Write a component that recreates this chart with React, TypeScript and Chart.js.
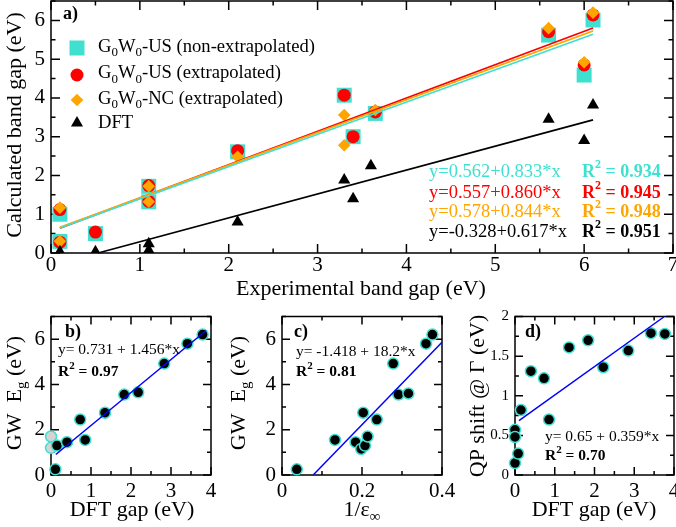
import React, { useEffect, useRef } from "react";
import { Chart, registerables } from "chart.js";

Chart.register(...registerables);

const W = 676;
const H = 527;
const SERIF = "'Liberation Serif', 'Times New Roman', Times, serif";
const TURQ = "#40E0D0";
const RED = "#FF0000";
const ORANGE = "#FFA500";
const BLUE = "#0000FF";

// ---------- Panel a ----------
const expUS = [0.1, 0.1, 0.5, 1.1, 1.1, 2.1, 3.3, 3.4, 3.65, 5.6, 6.0, 6.1];
const usNonExtrap = [1.0, 0.3, 0.5, 1.72, 1.32, 2.61, 4.07, 3.0, 3.6, 5.62, 4.59, 6.01];
const usExtrap = [1.12, 0.28, 0.54, 1.74, 1.33, 2.64, 4.07, 3.0, 3.64, 5.71, 4.85, 6.14];
const expNC = [0.1, 0.1, 1.1, 1.1, 2.1, 3.3, 3.3, 3.65, 5.6, 6.0, 6.1];
const ncExtrap = [1.17, 0.3, 1.72, 1.32, 2.48, 3.56, 2.78, 3.69, 5.8, 4.92, 6.2];
const expDFT = [0.1, 0.5, 1.1, 1.1, 2.1, 3.3, 3.4, 3.6, 5.6, 6.0, 6.1];
const dftA = [0.03, 0.03, 0.24, 0.07, 0.8, 1.88, 1.4, 2.25, 3.45, 2.9, 3.82];

const fitX = [0.1, 6.1];
const fitNonExtrap = [0.645, 5.643];
const fitExtrapUS = [0.643, 5.803];
const fitExtrapNC = [0.662, 5.726];
const fitDftX = [0.53, 6.1];
const fitDft = [0.0, 3.436];

const aXTicks = [0, 1, 2, 3, 4, 5, 6, 7];
const aYTicks = [0, 1, 2, 3, 4, 5, 6];

// ---------- Panel b ----------
const bDFT = [0.11, 0.15, 0.4, 0.73, 0.855, 1.35, 1.83, 2.18, 2.83, 3.41, 3.79];
const bGW = [0.25, 1.3, 1.45, 2.45, 1.55, 2.75, 3.55, 3.65, 4.92, 5.8, 6.2];
const bDFTgray = [0, 0];
const bGWgray = [1.7, 1.2];
const bFitX = [0.12, 3.88];
const bFitY = [0.906, 6.38];
const bXTicks = [0, 1, 2, 3, 4];
const bYTicks = [0, 2, 4, 6];

// ---------- Panel c ----------
const cInvEps = [0.037, 0.1325, 0.184, 0.198, 0.2075, 0.214, 0.203, 0.237, 0.278, 0.291, 0.316, 0.36, 0.376];
const cGW = [0.25, 1.55, 1.45, 1.15, 1.3, 1.7, 2.75, 2.45, 4.92, 3.55, 3.6, 5.8, 6.2];
const cFitX = [0.078, 0.4];
const cFitY = [0.0, 5.86];
const cXTicks = [0, 0.2, 0.4];
const cYTicks = [0, 2, 4, 6];

// ---------- Panel d ----------
const dDFT = [0, 0, 0, 0.08, 0.15, 0.4, 0.73, 0.855, 1.36, 1.84, 2.22, 2.85, 3.42, 3.77];
const dShift = [0.57, 0.48, 0.15, 0.27, 0.82, 1.31, 1.22, 0.7, 1.61, 1.7, 1.36, 1.57, 1.79, 1.78];
const dFitX = [0.1, 3.76];
const dFitY = [0.686, 2.0];
const dXTicks = [0, 1, 2, 3, 4];
const dYTicks = [0, 0.5, 1, 1.5, 2];

type Part = { t: string; sub?: boolean; sup?: boolean };
type Txt = {
  x: number;
  y: number;
  parts: Part[];
  size: number;
  color?: string;
  bold?: boolean;
  align?: "left" | "center";
  rot?: boolean;
};

const pts = (xs: number[], ys: number[]) => xs.map((x, i) => ({ x, y: ys[i] }));

function drawParts(ctx: CanvasRenderingContext2D, tx: Txt) {
  ctx.save();
  ctx.fillStyle = tx.color || "#000";
  ctx.textBaseline = "middle";
  ctx.textAlign = "left";
  const weight = tx.bold ? "bold " : "";
  const fontFor = (p: Part) =>
    `${weight}${p.sub || p.sup ? Math.round(tx.size * 0.68) : tx.size}px ${SERIF}`;
  let total = 0;
  const widths = tx.parts.map((p) => {
    ctx.font = fontFor(p);
    const w = ctx.measureText(p.t).width;
    total += w;
    return w;
  });
  ctx.translate(tx.x, tx.y);
  if (tx.rot) ctx.rotate(-Math.PI / 2);
  let x = tx.align === "center" ? -total / 2 : 0;
  tx.parts.forEach((p, i) => {
    ctx.font = fontFor(p);
    const dy = p.sub ? tx.size * 0.32 : p.sup ? -tx.size * 0.4 : 0;
    ctx.fillText(p.t, x, dy);
    x += widths[i];
  });
  ctx.restore();
}

function drawMarker(ctx: CanvasRenderingContext2D, kind: string, x: number, y: number) {
  ctx.save();
  ctx.beginPath();
  if (kind === "square") {
    ctx.fillStyle = TURQ;
    ctx.rect(x - 7.5, y - 7.5, 15, 15);
  } else if (kind === "circle") {
    ctx.fillStyle = RED;
    ctx.arc(x, y, 6.5, 0, Math.PI * 2);
  } else if (kind === "diamond") {
    ctx.fillStyle = ORANGE;
    ctx.moveTo(x, y - 6.3);
    ctx.lineTo(x + 6.3, y);
    ctx.lineTo(x, y + 6.3);
    ctx.lineTo(x - 6.3, y);
    ctx.closePath();
  } else {
    ctx.fillStyle = "#000";
    ctx.moveTo(x, y - 7);
    ctx.lineTo(x + 6.06, y + 3.5);
    ctx.lineTo(x - 6.06, y + 3.5);
    ctx.closePath();
  }
  ctx.fill();
  ctx.restore();
}

const decoPlugin = {
  id: "deco",
  beforeDatasetsDraw(chart: any, _args: any, o: any) {
    const f = o && o.frame;
    if (!f) return;
    const { ctx, chartArea: a, scales } = chart;
    const xs = scales.x;
    const ys = scales.y;
    ctx.save();
    ctx.strokeStyle = "#000";
    ctx.lineWidth = f.lw;
    ctx.beginPath();
    const nx = Math.round((xs.max - xs.min) / f.xMinor);
    for (let i = 0; i <= nx; i++) {
      const v = xs.min + i * f.xMinor;
      const r = v / f.xMajor;
      const len = Math.abs(r - Math.round(r)) < 1e-6 ? f.major : f.minor;
      const px = xs.getPixelForValue(v);
      ctx.moveTo(px, a.bottom);
      ctx.lineTo(px, a.bottom - len);
      ctx.moveTo(px, a.top);
      ctx.lineTo(px, a.top + len);
    }
    const ny = Math.round((ys.max - ys.min) / f.yMinor);
    for (let i = 0; i <= ny; i++) {
      const v = ys.min + i * f.yMinor;
      const r = v / f.yMajor;
      const len = Math.abs(r - Math.round(r)) < 1e-6 ? f.major : f.minor;
      const py = ys.getPixelForValue(v);
      ctx.moveTo(a.left, py);
      ctx.lineTo(a.left + len, py);
      ctx.moveTo(a.right, py);
      ctx.lineTo(a.right - len, py);
    }
    ctx.stroke();
    ctx.strokeRect(a.left, a.top, a.right - a.left, a.bottom - a.top);
    ctx.restore();
  },
  afterDraw(chart: any, _args: any, o: any) {
    if (!o) return;
    const ctx = chart.ctx;
    (o.legend || []).forEach((l: any) => drawMarker(ctx, l.kind, l.x, l.y));
    (o.texts || []).forEach((t: Txt) => drawParts(ctx, t));
  },
};
Chart.register(decoPlugin as any);

type Area = { l: number; t: number; r: number; b: number };

function makeScale(
  min: number,
  max: number,
  ticks: number[],
  size: number,
  padding: number,
  horizontal: boolean,
  fixed: number
) {
  return {
    type: "linear",
    min,
    max,
    afterBuildTicks: (s: any) => {
      s.ticks = ticks.map((v) => ({ value: v }));
    },
    ticks: {
      font: { family: SERIF, size },
      color: "#000",
      padding,
      maxRotation: 0,
      minRotation: 0,
      autoSkip: false,
      callback: (v: any) => String(Math.round(Number(v) * 1000) / 1000),
    },
    grid: { display: false, drawTicks: false },
    border: { display: false },
    afterFit: (s: any) => {
      if (horizontal) s.height = fixed;
      else s.width = fixed;
      s.paddingLeft = 0;
      s.paddingRight = 0;
      s.paddingTop = 0;
      s.paddingBottom = 0;
    },
  };
}

function baseOptions(
  area: Area,
  xr: [number, number],
  yr: [number, number],
  xTicks: number[],
  yTicks: number[],
  xFont: number,
  yFont: number,
  xPad: number,
  yPad: number,
  deco: any
) {
  return {
    responsive: false,
    maintainAspectRatio: false,
    animation: false,
    events: [],
    layout: { autoPadding: false, padding: { left: 0, top: area.t, right: W - area.r, bottom: 0 } },
    plugins: {
      legend: { display: false },
      tooltip: { enabled: false },
      deco,
    },
    scales: {
      x: makeScale(xr[0], xr[1], xTicks, xFont, xPad, true, H - area.b),
      y: makeScale(yr[0], yr[1], yTicks, yFont, yPad, false, area.l),
    },
  };
}

const lineDs = (xs: number[], ys: number[], color: string, width: number, order: number) => ({
  data: pts(xs, ys),
  showLine: true,
  borderColor: color,
  borderWidth: width,
  pointRadius: 0,
  fill: false,
  order,
  clip: false,
});

const subPointDs = (xs: number[], ys: number[], bg: string, order: number) => ({
  data: pts(xs, ys),
  pointStyle: "circle",
  pointRadius: 5.5,
  backgroundColor: bg,
  borderColor: TURQ,
  borderWidth: 1.5,
  order,
  clip: false,
});

function makeMain(canvas: HTMLCanvasElement) {
  const area = { l: 51, t: 1, r: 673, b: 253 };
  const LG = 18.6;
  const AN = 18.5;
  const texts: Txt[] = [
    { x: 63, y: 14, parts: [{ t: "a)" }], size: 18, bold: true },
    { x: 98, y: 47, parts: [{ t: "G" }, { t: "0", sub: true }, { t: "W" }, { t: "0", sub: true }, { t: "-US (non-extrapolated)" }], size: LG },
    { x: 98, y: 73.5, parts: [{ t: "G" }, { t: "0", sub: true }, { t: "W" }, { t: "0", sub: true }, { t: "-US (extrapolated)" }], size: LG },
    { x: 98, y: 99, parts: [{ t: "G" }, { t: "0", sub: true }, { t: "W" }, { t: "0", sub: true }, { t: "-NC (extrapolated)" }], size: LG },
    { x: 98, y: 123.5, parts: [{ t: "DFT" }], size: LG },
    { x: 429, y: 172, parts: [{ t: "y=0.562+0.833*x" }], size: AN, color: TURQ },
    { x: 429, y: 193, parts: [{ t: "y=0.557+0.860*x" }], size: AN, color: RED },
    { x: 429, y: 212.5, parts: [{ t: "y=0.578+0.844*x" }], size: AN, color: ORANGE },
    { x: 429, y: 232, parts: [{ t: "y=-0.328+0.617*x" }], size: AN, color: "#000" },
    { x: 582, y: 172, parts: [{ t: "R" }, { t: "2", sup: true }, { t: " = 0.934" }], size: 18, color: TURQ, bold: true },
    { x: 582, y: 193, parts: [{ t: "R" }, { t: "2", sup: true }, { t: " = 0.945" }], size: 18, color: RED, bold: true },
    { x: 582, y: 212.5, parts: [{ t: "R" }, { t: "2", sup: true }, { t: " = 0.948" }], size: 18, color: ORANGE, bold: true },
    { x: 582, y: 232, parts: [{ t: "R" }, { t: "2", sup: true }, { t: " = 0.951" }], size: 18, color: "#000", bold: true },
    { x: 15, y: 125, parts: [{ t: "Calculated band gap (eV)" }], size: 22, align: "center", rot: true },
    { x: 361, y: 289, parts: [{ t: "Experimental band gap (eV)" }], size: 22, align: "center" },
  ];
  const legend = [
    { kind: "square", x: 77, y: 48 },
    { kind: "circle", x: 77, y: 75 },
    { kind: "diamond", x: 77, y: 100 },
    { kind: "triangle", x: 77, y: 123 },
  ];
  return new Chart(canvas, {
    type: "scatter",
    data: {
      datasets: [
        { data: pts(expUS, usNonExtrap), pointStyle: "rect", pointRadius: 10.6, backgroundColor: TURQ, borderWidth: 0, order: 5 },
        { data: pts(expUS, usExtrap), pointStyle: "circle", pointRadius: 6.5, backgroundColor: RED, borderWidth: 0, order: 4 },
        { data: pts(expNC, ncExtrap), pointStyle: "rectRot", pointRadius: 6.3, backgroundColor: ORANGE, borderWidth: 0, order: 3 },
        { data: pts(expDFT, dftA), pointStyle: "triangle", pointRadius: 7, backgroundColor: "#000", borderWidth: 0, order: 2 },
        lineDs(fitX, fitNonExtrap, TURQ, 1.8, 1),
        lineDs(fitX, fitExtrapNC, ORANGE, 1.8, 1),
        lineDs(fitX, fitExtrapUS, RED, 1.8, 1),
        lineDs(fitDftX, fitDft, "#000", 1.8, 1),
      ] as any,
    },
    options: baseOptions(area, [0, 7], [0, 6.5], aXTicks, aYTicks, 21, 21, 0, 6, {
      frame: { lw: 1.5, xMajor: 1, xMinor: 0.5, yMajor: 1, yMinor: 0.5, major: 9, minor: 4.5 },
      texts,
      legend,
    }) as any,
  });
}

function makeB(canvas: HTMLCanvasElement) {
  const area = { l: 51, t: 316.5, r: 211, b: 475 };
  const texts: Txt[] = [
    { x: 65, y: 332, parts: [{ t: "b)" }], size: 18, bold: true },
    { x: 58, y: 350, parts: [{ t: "y= 0.731 + 1.456*x" }], size: 15.5 },
    { x: 58, y: 372, parts: [{ t: "R" }, { t: "2", sup: true }, { t: " = 0.97" }], size: 15.5, bold: true },
    { x: 15, y: 393, parts: [{ t: "GW  E" }, { t: "g", sub: true }, { t: " (eV)" }], size: 22, align: "center", rot: true },
    { x: 132, y: 510, parts: [{ t: "DFT gap (eV)" }], size: 22, align: "center" },
  ];
  return new Chart(canvas, {
    type: "scatter",
    data: {
      datasets: [
        subPointDs(bDFTgray, bGWgray, "#D3D3D3", 3),
        subPointDs(bDFT, bGW, "#000", 2),
        lineDs(bFitX, bFitY, BLUE, 1.5, 1),
      ] as any,
    },
    options: baseOptions(area, [0, 4], [0, 7], bXTicks, bYTicks, 21, 21, 4, 6, {
      frame: { lw: 1.5, xMajor: 1, xMinor: 0.5, yMajor: 2, yMinor: 1, major: 8, minor: 4 },
      texts,
    }) as any,
  });
}

function makeC(canvas: HTMLCanvasElement) {
  const area = { l: 282, t: 316.5, r: 442, b: 475 };
  const texts: Txt[] = [
    { x: 294, y: 332, parts: [{ t: "c)" }], size: 18, bold: true },
    { x: 296, y: 352, parts: [{ t: "y= -1.418 + 18.2*x" }], size: 15.5 },
    { x: 296, y: 372, parts: [{ t: "R" }, { t: "2", sup: true }, { t: " = 0.81" }], size: 15.5, bold: true },
    { x: 239, y: 393, parts: [{ t: "GW  E" }, { t: "g", sub: true }, { t: " (eV)" }], size: 22, align: "center", rot: true },
    { x: 362, y: 510, parts: [{ t: "1/ε" }, { t: "∞", sub: true }], size: 22, align: "center" },
  ];
  return new Chart(canvas, {
    type: "scatter",
    data: {
      datasets: [subPointDs(cInvEps, cGW, "#000", 2), lineDs(cFitX, cFitY, BLUE, 1.5, 1)] as any,
    },
    options: baseOptions(area, [0, 0.4], [0, 7], cXTicks, cYTicks, 21, 21, 4, 6, {
      frame: { lw: 1.5, xMajor: 0.2, xMinor: 0.1, yMajor: 2, yMinor: 1, major: 8, minor: 4 },
      texts,
    }) as any,
  });
}

function makeD(canvas: HTMLCanvasElement) {
  const area = { l: 515, t: 316.5, r: 674, b: 475 };
  const texts: Txt[] = [
    { x: 525, y: 332, parts: [{ t: "d)" }], size: 18, bold: true },
    { x: 545, y: 437, parts: [{ t: "y= 0.65 + 0.359*x" }], size: 15.5 },
    { x: 545, y: 456, parts: [{ t: "R" }, { t: "2", sup: true }, { t: " = 0.70" }], size: 15.5, bold: true },
    { x: 478, y: 396, parts: [{ t: "QP shift @ Γ (eV)" }], size: 22, align: "center", rot: true },
    { x: 594, y: 510, parts: [{ t: "DFT gap (eV)" }], size: 22, align: "center" },
  ];
  return new Chart(canvas, {
    type: "scatter",
    data: {
      datasets: [subPointDs(dDFT, dShift, "#000", 2), lineDs(dFitX, dFitY, BLUE, 1.5, 1)] as any,
    },
    options: baseOptions(area, [0, 4], [0, 2], dXTicks, dYTicks, 21, 15, 4, 6, {
      frame: { lw: 1.5, xMajor: 1, xMinor: 0.5, yMajor: 0.5, yMinor: 0.25, major: 8, minor: 4 },
      texts,
    }) as any,
  });
}

export default function App() {
  const r0 = useRef<HTMLCanvasElement>(null);
  const r1 = useRef<HTMLCanvasElement>(null);
  const r2 = useRef<HTMLCanvasElement>(null);
  const r3 = useRef<HTMLCanvasElement>(null);
  useEffect(() => {
    const charts = [
      makeMain(r0.current!),
      makeB(r1.current!),
      makeC(r2.current!),
      makeD(r3.current!),
    ];
    return () => charts.forEach((c) => c.destroy());
  }, []);
  const st: React.CSSProperties = { position: "absolute", left: 0, top: 0, width: W, height: H };
  return (
    <div style={{ position: "fixed", left: 0, top: 0, width: W, height: H, background: "#fff", overflow: "hidden" }}>
      <canvas ref={r0} width={W} height={H} style={st} />
      <canvas ref={r1} width={W} height={H} style={st} />
      <canvas ref={r2} width={W} height={H} style={st} />
      <canvas ref={r3} width={W} height={H} style={st} />
    </div>
  );
}
